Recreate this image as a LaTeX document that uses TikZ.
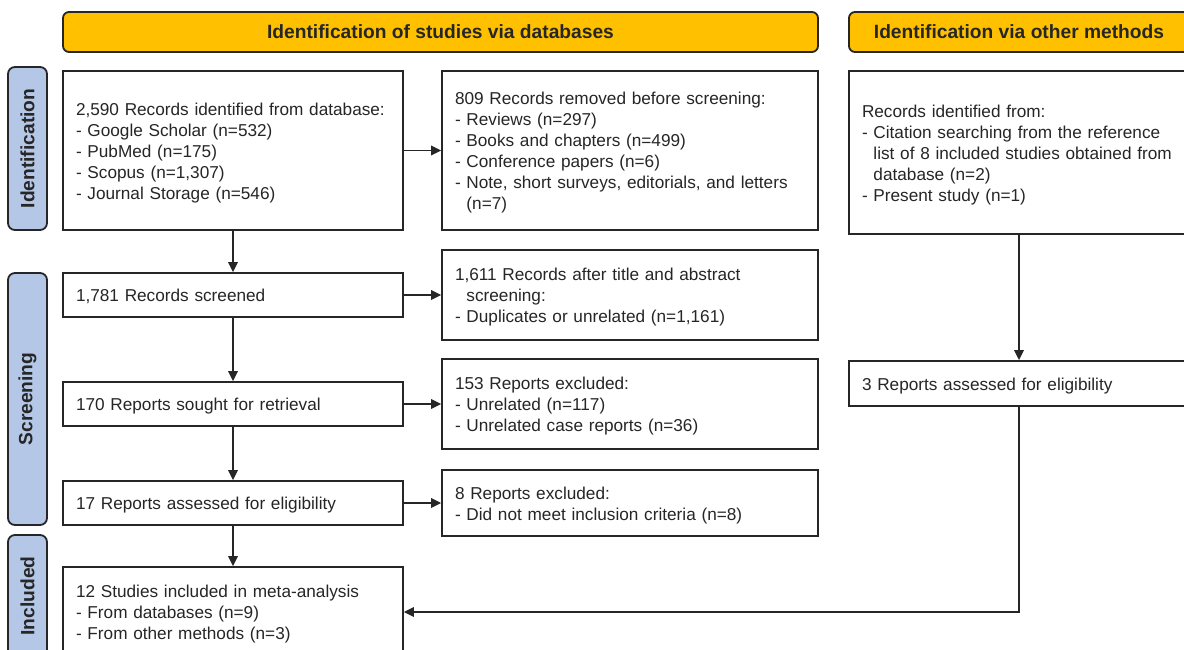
\documentclass[tikz,border=0pt]{standalone}
\usepackage{fontspec}
\setmainfont{Liberation Sans}
\usetikzlibrary{arrows.meta}
\definecolor{hdr}{HTML}{FFC000}
\definecolor{sidefill}{HTML}{B4C7E7}
\definecolor{ink}{HTML}{262626}
\newcommand{\ind}{\hphantom{-\ }}
\newcommand{\topstrut}{\rule{0pt}{17.5pt}}
\newcommand{\botstrut}{\rule[-4pt]{0pt}{4pt}}
\begin{document}
\begin{tikzpicture}[x=1pt,y=-1pt,
  every node/.style={text=ink},
  flowbox/.style={draw=ink, line width=1.8pt, fill=white, align=left, inner xsep=13pt, inner ysep=0pt,
    font=\fontsize{17.2}{21}\selectfont},
  header/.style={draw=ink, line width=1.8pt, fill=hdr, rounded corners=6pt, inner sep=0pt,
    font=\fontsize{19.2}{23}\selectfont\bfseries},
  sidelbl/.style={draw=ink, line width=1.8pt, fill=sidefill, rounded corners=7pt, inner sep=0pt, rotate=90,
    font=\fontsize{19.2}{23}\selectfont\bfseries},
  arr/.style={draw=ink, line width=1.8pt, -{Triangle[length=10pt,width=9.5pt]}},
]
\useasboundingbox (0,0) rectangle (1184,650);
\clip (0,0) rectangle (1184,650);

% headers
\node[header, minimum width=755pt, minimum height=40pt] (h1) at (440.5,32) {Identification of studies via databases};
\node[header, minimum width=340pt, minimum height=40pt] (h2) at (1019,32) {Identification via other methods};

% side labels
\node[sidelbl, minimum width=163pt, minimum height=39pt] (s1) at (27.5,148.5) {Identification};
\node[sidelbl, minimum width=252pt, minimum height=39pt] (s2) at (27.5,399) {Screening};
\node[sidelbl, minimum width=122pt, minimum height=39pt] (s3) at (27.5,596) {Included};

% left column
\node[flowbox, text width=314pt, minimum height=159pt] (A) at (233,150.5)
  {\topstrut 2,590 Records identified from database:\\- Google Scholar (n=532)\\- PubMed (n=175)\\- Scopus (n=1,307)\\- Journal Storage (n=546)\botstrut};
\node[flowbox, text width=314pt, minimum height=44pt] (D) at (233,295) {\topstrut 1,781 Records screened\botstrut};
\node[flowbox, text width=314pt, minimum height=44pt] (F) at (233,404) {\topstrut 170 Reports sought for retrieval\botstrut};
\node[flowbox, text width=314pt, minimum height=44pt] (H) at (233,503) {\topstrut 17 Reports assessed for eligibility\botstrut};
\node[flowbox, text width=314pt, minimum height=90pt] (K) at (233,612)
  {\topstrut 12 Studies included in meta-analysis\\- From databases (n=9)\\- From other methods (n=3)\botstrut};

% middle column
\node[flowbox, text width=350pt, minimum height=159pt] (B) at (630,150.5)
  {\topstrut 809 Records removed before screening:\\- Reviews (n=297)\\- Books and chapters (n=499)\\- Conference papers (n=6)\\- Note, short surveys, editorials, and letters\\\ind(n=7)\botstrut};
\node[flowbox, text width=350pt, minimum height=90pt] (E) at (630,295)
  {\topstrut 1,611 Records after title and abstract\\\ind screening:\\- Duplicates or unrelated (n=1,161)\botstrut};
\node[flowbox, text width=350pt, minimum height=90pt] (G) at (630,404)
  {\topstrut 153 Reports excluded:\\- Unrelated (n=117)\\- Unrelated case reports (n=36)\botstrut};
\node[flowbox, text width=350pt, minimum height=66pt] (I) at (630,503)
  {\topstrut 8 Reports excluded:\\- Did not meet inclusion criteria (n=8)\botstrut};

% right column
\node[flowbox, text width=314pt, minimum height=163pt] (C) at (1019,152.5)
  {\topstrut Records identified from:\\- Citation searching from the reference\\\ind list of 8 included studies obtained from\\\ind database (n=2)\\- Present study (n=1)\botstrut};
\node[flowbox, text width=314pt, minimum height=45pt] (J) at (1019,383.5) {\topstrut 3 Reports assessed for eligibility\botstrut};

% connectors
\draw[arr] (A.south) -- (D.north);
\draw[arr] (D.south) -- (F.north);
\draw[arr] (F.south) -- (H.north);
\draw[arr] (H.south) -- (K.north);
\draw[arr] (A.east) -- (B.west);
\draw[arr] (D.east) -- (E.west);
\draw[arr] (F.east) -- (G.west);
\draw[arr] (H.east) -- (I.west);
\draw[arr] (C.south) -- (J.north);
\draw[arr] (J.south) |- (K.east);
\end{tikzpicture}
\end{document}
